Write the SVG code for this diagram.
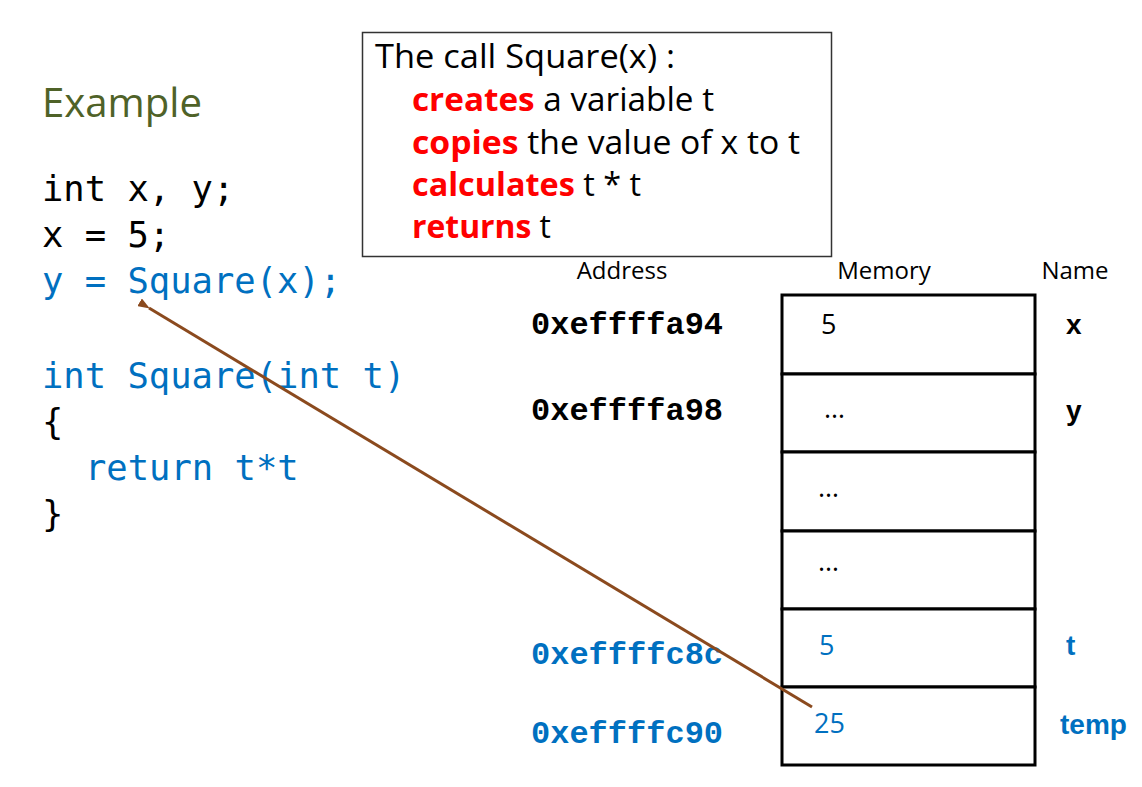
<svg xmlns="http://www.w3.org/2000/svg" width="1142" height="787" viewBox="0 0 1142 787">
<style>
.code{font-family:"DejaVu Sans Mono","Liberation Mono",monospace;font-size:35.5px}
.blk{fill:#000}
.blu{fill:#0070c0}
.sans{font-family:"Open Sans","Liberation Sans",sans-serif}
.box{font-size:32px}
.red{fill:#ff0000;font-weight:bold}
.hdr{font-size:24px}
.addr{font-family:"Liberation Mono","Courier New",monospace;font-weight:bold;font-size:32px}
.val{font-family:"Open Sans","Liberation Sans",sans-serif;font-size:27px}
.nm{font-family:"Liberation Sans",sans-serif;font-weight:bold;font-size:28px}
.cell{fill:#fff;stroke:#000;stroke-width:3}
</style>
<defs>
<marker id="ah" markerWidth="12" markerHeight="9" refX="1" refY="4.5" orient="auto" markerUnits="userSpaceOnUse">
<path d="M12,0 L0,4.5 L12,9 Z" fill="#8b4a1e"/>
</marker>
</defs>
<rect width="1142" height="787" fill="#fff"/>
<g id="title"><text x="42" y="117" class="sans" font-size="40" fill="#4f6228" textLength="160" lengthAdjust="spacingAndGlyphs">Example</text></g>
<g id="code">
<text x="42" y="201" class="code blk">int x, y;</text>
<text x="42" y="247" class="code blk">x = 5;</text>
<text x="42" y="293" class="code blu">y = Square(x);</text>
<text x="42" y="388" class="code blu">int Square(int t)</text>
<text x="42" y="434" class="code blk">{</text>
<text x="85" y="480" class="code blu">return t*t</text>
<text x="42" y="526" class="code blk">}</text>
</g>
<g id="callbox">
<rect x="362.5" y="32.5" width="469" height="224" fill="#fff" stroke="#333" stroke-width="1.5"/>
<text x="375" y="68" class="sans box" textLength="300" lengthAdjust="spacingAndGlyphs">The call Square(x) :</text>
<text x="412" y="111" class="sans box" textLength="302" lengthAdjust="spacingAndGlyphs"><tspan class="red">creates</tspan> a variable t</text>
<text x="412" y="154" class="sans box" textLength="388" lengthAdjust="spacingAndGlyphs"><tspan class="red">copies</tspan> the value of x to t</text>
<text x="412" y="196" class="sans box" textLength="229" lengthAdjust="spacingAndGlyphs"><tspan class="red">calculates</tspan> t * t</text>
<text x="412" y="238" class="sans box" textLength="139" lengthAdjust="spacingAndGlyphs"><tspan class="red">returns</tspan> t</text>
</g>
<g id="headers" class="sans hdr">
<text x="622" y="279" text-anchor="middle">Address</text>
<text x="884" y="279" text-anchor="middle">Memory</text>
<text x="1075" y="279" text-anchor="middle">Name</text>
</g>
<g id="cells">
<rect class="cell" x="782" y="295" width="253" height="79"/>
<rect class="cell" x="782" y="374" width="253" height="78"/>
<rect class="cell" x="782" y="452" width="253" height="79"/>
<rect class="cell" x="782" y="531" width="253" height="78"/>
<rect class="cell" x="782" y="609" width="253" height="78"/>
<rect class="cell" x="782" y="687" width="253" height="78"/>
</g>
<g id="values">
<text x="821" y="334" class="val blk">5</text>
<text x="824" y="418" class="val blk">…</text>
<text x="818" y="497" class="val blk">…</text>
<text x="818" y="571" class="val blk">…</text>
<text x="819" y="655" class="val blu">5</text>
<text x="814" y="733" class="val blu">25</text>
</g>
<g id="addresses">
<text x="531" y="334" class="addr blk">0xeffffa94</text>
<text x="531" y="420" class="addr blk">0xeffffa98</text>
<text x="531" y="664" class="addr blu">0xeffffc8c</text>
<text x="531" y="743" class="addr blu">0xeffffc90</text>
</g>
<g id="names">
<text x="1066" y="334" class="nm blk">x</text>
<text x="1066" y="420" class="nm blk">y</text>
<text x="1066" y="655" class="nm blu">t</text>
<text x="1060" y="734" class="nm blu">temp</text>
</g>
<g id="connectors">
<line x1="812" y1="707" x2="149" y2="308" stroke="#8b4a1e" stroke-width="3" marker-end="url(#ah)"/>
</g>
</svg>
